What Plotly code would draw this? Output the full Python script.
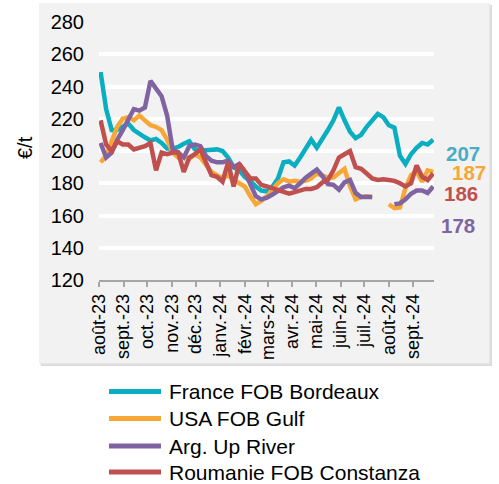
import pandas as pd
import plotly.graph_objects as go

# ---------------- data ----------------
dates = pd.date_range("2023-08-03", periods=61, freq="7D")

france = [249, 226, 213, 213, 215, 217, 213, 210.5, 208.5, 206.5,
          207.5, 205, 201.5, 201.5, 202.5, 204.5, 206, 201, 200, 200.5,
          201, 201, 200, 196, 190, 188, 184, 181.5, 178, 175.5,
          175, 178, 183, 193, 193.5, 191, 196, 202, 207, 202,
          207, 213, 219, 227, 219, 212, 208, 210, 215, 219,
          223, 221, 216, 214.5, 197, 192, 198, 202, 205, 204, 207]
usa = [193, 197, 206, 215, 220, 221, 219, 222, 219, 216,
       215, 213, 207, 199, 196, 197, 195, 198, 196, 191,
       187, 185, 183, 185, 182, 180, 178, 172, 167, 169,
       172, 176, 180, 182.5, 181, 181.5, 181, 181.5, 183, 186,
       185, 183.5, 183.5, 186, 189, 178, 170, 171.5, 172, 171.5,
       None, None, 167, 164.5, 165, 177, 185, 187, 181, 188, 187]
argentina = [205, 196, 199, 207, 213, 220, 226, 225, 227, 243.5,
             239, 234, 222, 201, 199, 196, 203, 204, 203, 197,
             194, 193, 193, 194, 190, 192, 187, 180, 172, 170,
             171, 173, 175, 177.5, 178.5, 177, 180, 183.5, 186, 188.5,
             184.5, 179.5, 179, 176, 180.5, 182, 174, 171.5, 171.5, 171.5,
             None, None, None, 167, 167.5, 170, 173.5, 175.5, 175.5, 174, 178]
roumanie = [219, 204, 200, 206, 204, 204, 201, 202, 203, 205,
            188, 199, 198, 199, 199, 187, 196, 198, 201, 193,
            185, 184, 181, 193, 178, 192, 187, 183, 183, 179,
            178, 177, 176, 174.5, 173.5, 174.5, 175.5, 176.5, 176.5, 177.5,
            180.5, 182, 188, 196, 198, 200, 190, 189, 186, 183,
            182, 182.5, 182, 181.5, 180, 178, 180, 191, 184, 182, 186]

series_names = ["France FOB Bordeaux", "USA FOB Gulf", "Arg. Up River", "Roumanie FOB Constanza"]
series_values = [france, usa, argentina, roumanie]
line_colors = ["#0AAEC1", "#F7A736", "#8064A2", "#C0504D"]
label_colors = ["#4BACC6", "#F7A736", "#C0504D", "#8064A2"]
end_labels = ["207", "187", "186", "178"]

tick_dates = pd.date_range("2023-08-01", "2024-09-01", freq="MS")
tick_labels = ["août-23", "sept.-23", "oct.-23", "nov.-23", "déc.-23", "janv.-24",
               "févr.-24", "mars-24", "avr.-24", "mai-24", "juin-24", "juil.-24",
               "août-24", "sept.-24"]
y_ticks = [120, 140, 160, 180, 200, 220, 240, 260, 280]

# ---------------- layout helpers ----------------
W, H = 499, 484
ML, MR, MT, MB = 99, 65, 22, 204
PW, PH = W - ML - MR, H - MT - MB


def px_x(px):
    return (px - ML) / PW


def px_y(py):
    return (H - MB - py) / PH


FONT = "Liberation Sans, Arial, sans-serif"

fig = go.Figure()
for name, vals, col in zip(series_names, series_values, line_colors):
    fig.add_trace(go.Scatter(x=dates, y=vals, name=name, mode="lines",
                             line=dict(color=col, width=4.5),
                             connectgaps=False, showlegend=False))

shapes = []
# panel shadow + panel
shapes.append(dict(type="rect", xref="paper", yref="paper", layer="below",
                   x0=px_x(41), x1=px_x(492), y0=px_y(366), y1=px_y(5),
                   fillcolor="#DADADA", line=dict(width=0)))
shapes.append(dict(type="rect", xref="paper", yref="paper", layer="below",
                   x0=px_x(40), x1=px_x(490.5), y0=px_y(364.5), y1=px_y(4),
                   fillcolor="#E6E6E6", line=dict(width=0)))
shapes.append(dict(type="rect", xref="paper", yref="paper", layer="below",
                   x0=px_x(39), x1=px_x(489), y0=px_y(363), y1=px_y(3),
                   fillcolor="#F2F2F2", line=dict(width=0)))

annotations = []
# y axis title
annotations.append(dict(text="€/t", xref="paper", yref="paper", x=px_x(25), y=px_y(148),
                        textangle=-90, showarrow=False, xanchor="center", yanchor="middle",
                        font=dict(family=FONT, size=20, color="#000000")))
# end labels
label_pos = [(443.5, 153), (450.5, 173), (442, 193.5), (438.5, 225)]
for txt, col, (lx, ly) in zip(end_labels, label_colors, label_pos):
    annotations.append(dict(text="<b>%s</b>" % txt, xref="paper", yref="paper",
                            x=px_x(lx), y=px_y(ly), xanchor="left", yanchor="middle",
                            height=17, valign="middle",
                            showarrow=False, font=dict(family=FONT, size=20.5, color=col)))

# manual legend
row_y = [391.5, 418.5, 446, 472]
for name, col, ry in zip(series_names, line_colors, row_y):
    shapes.append(dict(type="line", xref="paper", yref="paper",
                       x0=px_x(109), x1=px_x(161), y0=px_y(ry), y1=px_y(ry),
                       line=dict(color=col, width=5)))
    annotations.append(dict(text=name, xref="paper", yref="paper", x=px_x(166.5), y=px_y(ry),
                            xanchor="left", yanchor="middle", showarrow=False,
                            font=dict(family=FONT, size=21, color="#000000")))

fig.update_layout(
    width=W, height=H,
    margin=dict(l=ML, r=MR, t=MT, b=MB, pad=0),
    paper_bgcolor="#FFFFFF",
    plot_bgcolor="rgba(0,0,0,0)",
    font=dict(family=FONT, color="#000000"),
    shapes=shapes,
    annotations=annotations,
    showlegend=False,
    xaxis=dict(type="date", range=["2023-08-01", "2024-09-27"],
               tickvals=list(tick_dates), ticktext=tick_labels, tickangle=-90,
               tickfont=dict(family=FONT, size=18, color="#000000"),
               showgrid=False, zeroline=False,
               showline=True, linecolor="#A6A6A6", linewidth=1.5,
               ticks="outside", ticklen=5, tickcolor="#A6A6A6", tickwidth=1.5),
    yaxis=dict(range=[120, 280], tickvals=y_ticks,
               tickfont=dict(family=FONT, size=20, color="#000000"),
               showgrid=False, zeroline=False, showline=False, ticks="",
               ticklabelstandoff=14,
               minor=dict(tickvals=y_ticks[1:], showgrid=True, gridcolor="#FFFFFF",
                          gridwidth=3.5, ticks="")),
)

fig.write_html("out.html", config={"displayModeBar": False},
               post_script="document.body.style.margin='0';document.body.style.overflow='hidden';")
